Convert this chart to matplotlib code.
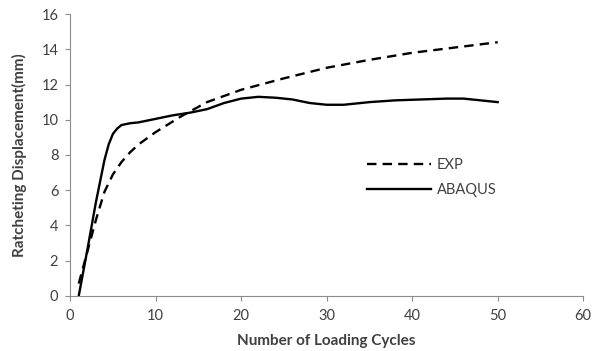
import matplotlib.pyplot as plt

plt.rcParams["font.family"] = ["Lato", "DejaVu Sans"]

# EXP (dashed) values
exp_cycles = [1, 2, 3, 4, 5, 6, 7, 8, 10, 13, 16, 20, 25, 30, 35, 40, 45, 50]
exp_disp = [0.7, 2.5, 4.3, 5.9, 6.9, 7.6, 8.15, 8.6, 9.3, 10.2, 11.0, 11.7,
            12.35, 12.95, 13.4, 13.8, 14.1, 14.4]

# ABAQUS (solid) values
abq_cycles = [1, 2, 3, 4, 4.5, 5, 5.5, 6, 7, 8, 9, 10, 12, 14, 16, 18, 20,
              22, 24, 26, 28, 30, 32, 35, 38, 41, 44, 46, 48, 50]
abq_disp = [0.0, 2.6, 5.3, 7.7, 8.6, 9.2, 9.5, 9.7, 9.8, 9.85, 9.95, 10.05,
            10.25, 10.4, 10.6, 10.95, 11.2, 11.3, 11.25, 11.15, 10.95, 10.85,
            10.85, 11.0, 11.1, 11.15, 11.2, 11.2, 11.1, 11.0]

AXIS_GREY = "#8c8c8c"
TEXT = "#404040"


def main():
    fig = plt.figure(figsize=(6, 3.51), dpi=100)
    ax = fig.add_axes([0.117, 0.157, 0.855, 0.803])
    plot_data(ax)
    set_properties(ax)
    fig.savefig("out.png", dpi=100)


def plot_data(ax):
    ax.plot(exp_cycles, exp_disp, color="black", lw=1.7, ls=(0, (4, 2.6)),
            label="EXP")
    ax.plot(abq_cycles, abq_disp, color="black", lw=1.7, label="ABAQUS")


def set_properties(ax):
    ax.set_xlim(0, 60)
    ax.set_ylim(0, 16)
    ax.set_xticks(range(0, 61, 10))
    ax.set_yticks(range(0, 17, 2))
    for side in ("top", "right"):
        ax.spines[side].set_visible(False)
    for side in ("left", "bottom"):
        ax.spines[side].set_color(AXIS_GREY)
    ax.tick_params(colors=AXIS_GREY, labelcolor=TEXT, labelsize=10.5,
                   length=3.6, direction="out")
    ax.tick_params(axis="x", pad=6)
    ax.tick_params(axis="y", pad=5)
    ax.set_xlabel("Number of Loading Cycles", fontsize=11, fontweight="bold",
                  color=TEXT, labelpad=8)
    ax.set_ylabel("Ratcheting Displacement(mm)", fontsize=11,
                  fontweight="bold", color=TEXT, labelpad=10)
    leg = ax.legend(loc="upper left", bbox_to_anchor=(0.579, 0.489),
                    frameon=False, fontsize=10.5, handlelength=4.4,
                    handletextpad=0.35, labelspacing=0.75, borderpad=0,
                    borderaxespad=0)
    for t in leg.get_texts():
        t.set_color(TEXT)


if __name__ == "__main__":
    main()
